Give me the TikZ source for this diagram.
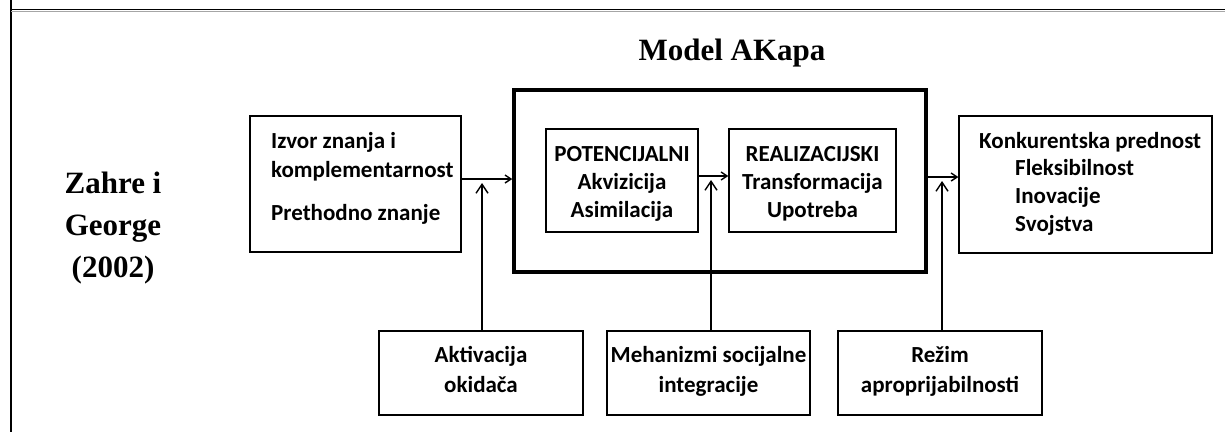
\documentclass[tikz,border=0pt]{standalone}
\usepackage{fontspec}
\setmainfont{Liberation Serif}
\newfontfamily\boxfont{Carlito}
\usetikzlibrary{arrows.meta}

\tikzset{
  box/.style={draw, line width=1.3pt, inner sep=0pt},
  bigbox/.style={draw, line width=3.5pt, inner sep=0pt},
  boxtext/.style={font=\boxfont\bfseries\fontsize{23}{28}\selectfont, inner sep=0pt},
  serif/.style={font=\bfseries\fontsize{31}{42}\selectfont, inner sep=0pt, align=center},
  flow/.style={-{Straight Barb[length=6pt,width=8pt]}, line width=1.4pt},
  feed/.style={-{Straight Barb[length=9pt,width=12pt]}, line width=1.4pt},
}

\begin{document}
\begin{tikzpicture}[x=1pt,y=-1pt] % y runs downwards, as in the page

  \useasboundingbox (0,0) rectangle (1225,432);

  % Table frame
  \draw[line width=1.5pt] (11,0) -- (11,432);
  \draw[line width=1.2pt] (10,9.5) -- (1225,9.5);
  \draw[gray!70, line width=1.8pt] (11,11.5) -- (1225,11.5);

  % Left column (base = last line)
  \node[serif, anchor=base] (autori) at (113,277) {Zahre i\\George\\(2002)};

  % Title
  \node[serif, anchor=base] (naslov) at (732,60) {Model AKapa};

  % Main boxes
  \node[box, minimum width=211pt, minimum height=136pt] (izvor) at (355.5,184) {};
  \node[bigbox, minimum width=412pt, minimum height=182pt] (akap) at (720,181) {};
  \node[box, minimum width=152pt, minimum height=103pt] (potenc) at (622,180.5) {};
  \node[box, minimum width=167pt, minimum height=103pt] (realiz) at (812.5,180.5) {};
  \node[box, minimum width=253pt, minimum height=137pt] (konk) at (1085.5,184.5) {};

  % Lower boxes
  \node[box, minimum width=204pt, minimum height=84pt] (aktiv) at (481,373) {};
  \node[box, minimum width=203pt, minimum height=84pt] (mehan) at (708.5,373) {};
  \node[box, minimum width=204pt, minimum height=84pt] (rezim) at (940,373) {};

  % Box texts, each placed on the baseline of its last line
  \node[boxtext, align=left, anchor=base west] (izvorA) at (271,177)
    {Izvor znanja i\\[1pt]komplementarnost};
  \node[boxtext, anchor=base west] (izvorB) at (271,220) {Prethodno znanje};
  \node[boxtext, align=center, anchor=base] (potencT) at (potenc.center |- 0,217)
    {POTENCIJALNI\\Akvizicija\\Asimilacija};
  \node[boxtext, align=center, anchor=base] (realizT) at (realiz.center |- 0,217)
    {REALIZACIJSKI\\Transformacija\\Upotreba};
  \node[boxtext, anchor=base west] (konkA) at (979,148) {Konkurentska prednost};
  \node[boxtext, align=left, anchor=base west] (konkB) at (1015,231.5)
    {Fleksibilnost\\Inovacije\\Svojstva};
  \node[boxtext, align=center, anchor=base] (aktivT) at (aktiv.center |- 0,392)
    {Aktivacija\\[2pt]okidača};
  \node[boxtext, align=center, anchor=base] (mehanT) at (mehan.center |- 0,392)
    {Mehanizmi socijalne\\[2pt]integracije};
  \node[boxtext, align=center, anchor=base] (rezimT) at (rezim.center |- 0,392)
    {Režim\\[2pt]aproprijabilnosti};

  % Junctions on the flow line
  \coordinate (in1) at (482,179);
  \coordinate (in2) at (711,176);
  \coordinate (in3) at (942,177);

  % Flow arrows
  \draw[flow] (izvor.east |- in1) -- (akap.west |- in1);
  \draw[flow] (potenc.east |- in2) -- (realiz.west |- in2);
  \draw[flow] (akap.east |- in3) -- (konk.west |- in3);

  % Moderating arrows from below
  \draw[feed] (aktiv.north -| in1) -- ([yshift=-4pt]in1);
  \draw[feed] (mehan.north -| in2) -- ([yshift=-4pt]in2);
  \draw[feed] (rezim.north -| in3) -- ([yshift=-4pt]in3);

\end{tikzpicture}
\end{document}
